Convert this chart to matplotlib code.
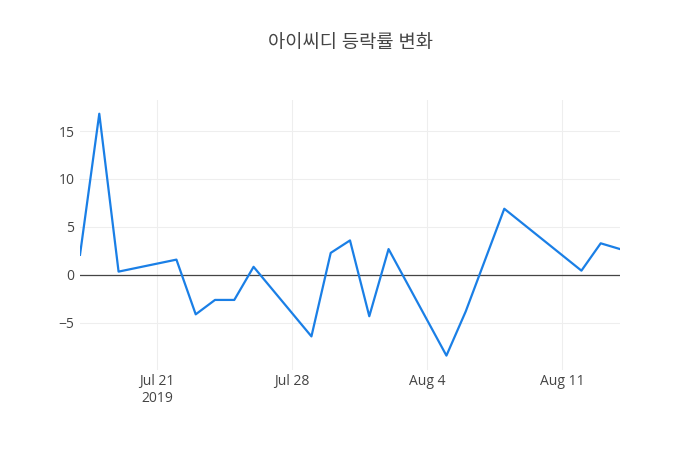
import matplotlib
matplotlib.use("Agg")
import matplotlib.pyplot as plt
import pandas as pd

plt.rcParams['font.family'] = ['Open Sans', 'Noto Sans CJK KR', 'DejaVu Sans']

# daily change rate (%)
dates = ["2019-07-17", "2019-07-18", "2019-07-19", "2019-07-22", "2019-07-23",
         "2019-07-24", "2019-07-25", "2019-07-26", "2019-07-29", "2019-07-30",
         "2019-07-31", "2019-08-01", "2019-08-02", "2019-08-05", "2019-08-06",
         "2019-08-08", "2019-08-12", "2019-08-13", "2019-08-14"]
rates = [2.1, 16.8, 0.35, 1.6, -4.1,
         -2.6, -2.6, 0.85, -6.4, 2.3,
         3.6, -4.3, 2.7, -8.4, -3.8,
         6.9, 0.45, 3.3, 2.7]
title = "아이씨디 등락률 변화"
x_ticks = ["2019-07-21", "2019-07-28", "2019-08-04", "2019-08-11"]
x_labels = ["Jul 21\n2019", "Jul 28", "Aug 4", "Aug 11"]
y_ticks = [-5, 0, 5, 10, 15]

x = pd.to_datetime(dates)

fig = plt.figure(figsize=(7, 4.5), dpi=100)
ax = fig.add_axes([80/700, 80/450, 540/700, 270/450])

ax.axhline(0, color="#444444", lw=0.9, zorder=1)
ax.plot(x, rates, color="#1a7fe6", lw=1.6, zorder=2)

ax.set_xlim(x[0], x[-1])
ax.set_ylim(-9.9, 18.23)
ax.set_xticks(pd.to_datetime(x_ticks))
ax.set_xticklabels(x_labels, linespacing=1.2)
ax.set_yticks(y_ticks)
ax.grid(True, color="#eeeeee", lw=0.75, zorder=0)
ax.set_axisbelow(True)
for s in ax.spines.values():
    s.set_visible(False)
ax.tick_params(length=0, labelsize=10, colors="#444444")
ax.tick_params(axis="x", pad=3)
ax.tick_params(axis="y", pad=4)

fig.suptitle(title, x=0.5, y=1 - 43/450, va="center", fontsize=13.5, color="#444444")

fig.savefig("out.png", dpi=100)
